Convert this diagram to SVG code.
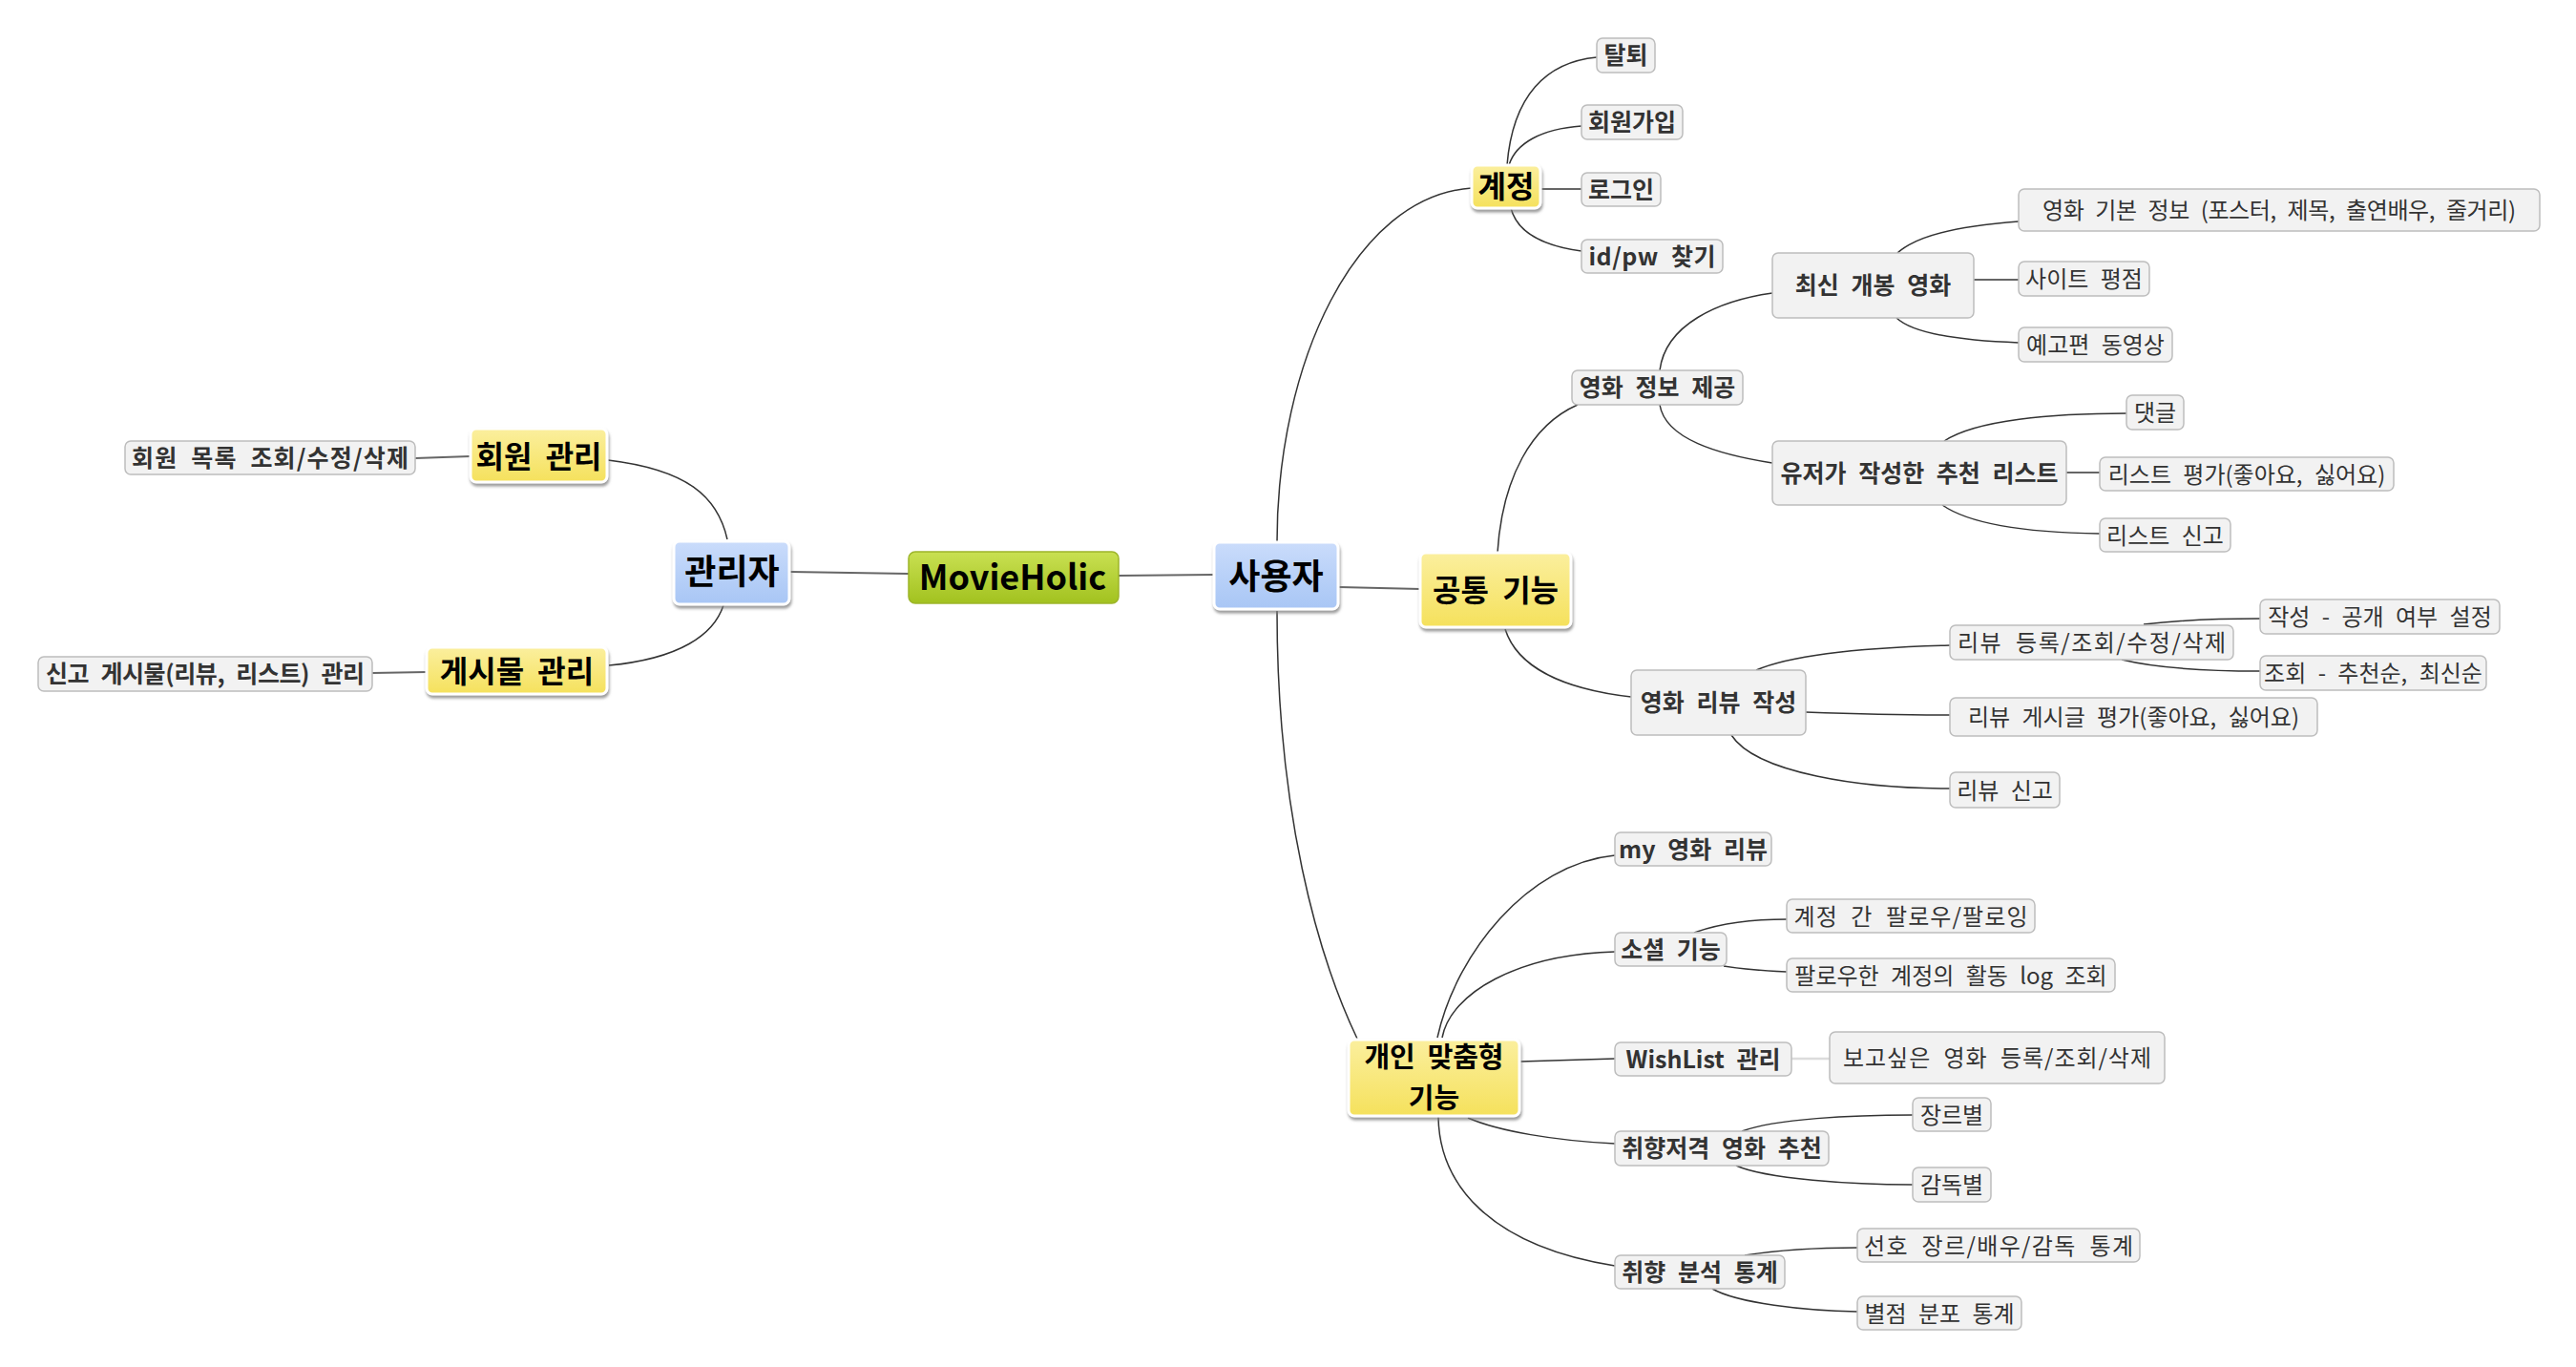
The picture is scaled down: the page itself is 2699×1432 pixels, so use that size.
<svg xmlns="http://www.w3.org/2000/svg" width="2699" height="1432" viewBox="0 0 2699 1432">
<defs>
<linearGradient id="gGreen" x1="0" y1="0" x2="0" y2="1"><stop offset="0" stop-color="#c9e052"/><stop offset="1" stop-color="#a2c21f"/></linearGradient>
<linearGradient id="gBlue" x1="0" y1="0" x2="0" y2="1"><stop offset="0" stop-color="#cadcfb"/><stop offset="1" stop-color="#a8c6f5"/></linearGradient>
<linearGradient id="gYellow" x1="0" y1="0" x2="0" y2="1"><stop offset="0" stop-color="#fbef9e"/><stop offset="1" stop-color="#f5e15c"/></linearGradient>
<filter id="shadow" x="-10%" y="-10%" width="130%" height="140%"><feDropShadow dx="1" dy="3" stdDeviation="1.5" flood-color="#7a7a7a" flood-opacity="0.75"/></filter>
</defs>
<style>
text{font-family:"Noto Sans CJK KR","Noto Sans",sans-serif;text-anchor:middle;word-spacing:7px}
.root rect{fill:url(#gGreen);stroke:#9db52a;stroke-width:1.5}
.root text{font-size:36px;font-weight:bold;fill:#000}
.l1 rect{fill:url(#gBlue);stroke:#fff;stroke-width:3;filter:url(#shadow)}
.l1 text{font-size:36px;font-weight:bold;fill:#000}
.l2 rect{fill:url(#gYellow);stroke:#fff;stroke-width:3;filter:url(#shadow)}
.l2 text{font-size:32px;font-weight:bold;fill:#000}
#n-personal text{font-size:29px}
.l3 rect,.l4 rect{fill:#f2f2f2;stroke:#bdbdbd;stroke-width:1.5}
.l3 text{font-size:25px;font-weight:bold;fill:#333}
.l4 text{font-size:24px;font-weight:normal;fill:#333}
#connectors path{fill:none;stroke:#333;stroke-width:1.5}
#connectors .thick{stroke:#666;stroke-width:2}
#connectors .light{stroke:#dcdcdc;stroke-width:2.5}
</style>
<rect width="2699" height="1432" fill="#fff"/>
<g id="connectors">
<path class="thick" d="M828,599 L952,601"/>
<path class="thick" d="M1172,603 L1272,602"/>
<path class="thick" d="M1403,615 L1488,617"/>
<path d="M762,565 C752,520 720,492 637,482"/>
<path d="M758,634 C748,665 712,690 638,697"/>
<path class="thick" d="M435,480 L493,478"/>
<path class="thick" d="M390,705 L447,704"/>
<path d="M1338,568 C1338,380 1420,205 1542,197"/>
<path d="M1338,640 C1338,850 1380,1000 1422,1088"/>
<path d="M1579,173 C1585,100 1620,65 1673,60"/>
<path d="M1581,173 C1588,150 1615,135 1657,132"/>
<path class="thick" d="M1614,198 L1657,198"/>
<path d="M1583,218 C1590,245 1620,258 1657,263"/>
<path d="M1569,579 C1574,500 1605,445 1653,424"/>
<path d="M1739,388 C1745,340 1800,315 1857,307"/>
<path d="M1739,424 C1745,460 1800,476 1857,485"/>
<path d="M1988,265 C2010,245 2060,236 2115,232"/>
<path class="thick" d="M2068,293 L2115,293"/>
<path d="M1987,333 C2005,350 2060,357 2115,359"/>
<path d="M2037,462 C2070,440 2150,433 2228,433"/>
<path class="thick" d="M2165,495 L2200,495"/>
<path d="M2035,529 C2065,550 2130,558 2200,559"/>
<path d="M1577,659 C1590,700 1640,722 1709,730"/>
<path d="M1840,702 C1880,685 1960,678 2043,676"/>
<path d="M2246,654 C2280,650 2330,648 2368,648"/>
<path d="M2223,691 C2260,700 2320,703 2368,703"/>
<path d="M1892,746 C1950,748 2000,749 2043,749"/>
<path d="M1814,770 C1840,810 1950,826 2043,826"/>
<path d="M1506,1087 C1525,1000 1600,905 1692,896"/>
<path d="M1511,1087 C1520,1040 1590,1000 1692,997"/>
<path d="M1775,977 C1800,968 1835,963 1872,963"/>
<path d="M1806,1012 C1830,1016 1850,1017 1872,1018"/>
<path d="M1593,1112 L1692,1109"/>
<path class="light" d="M1877,1109 L1917,1109"/>
<path d="M1538,1171 C1570,1185 1630,1195 1692,1198"/>
<path d="M1825,1185 C1860,1172 1940,1168 2004,1168"/>
<path d="M1819,1221 C1850,1235 1940,1241 2004,1241"/>
<path d="M1507,1170 C1508,1240 1560,1305 1692,1326"/>
<path d="M1828,1315 C1860,1310 1900,1307 1946,1307"/>
<path d="M1794,1350 C1820,1365 1890,1373 1946,1374"/>
</g>
<g id="n-root" class="root"><rect x="952" y="578" width="220" height="54" rx="7"/><text x="1061" y="618">MovieHolic</text></g>
<g id="n-admin" class="l1"><rect x="706" y="567" width="121" height="66" rx="6"/><text x="767" y="612">관리자</text></g>
<g id="n-user" class="l1"><rect x="1272" y="568" width="130" height="70" rx="6"/><text x="1337" y="617">사용자</text></g>
<g id="n-member" class="l2"><rect x="493" y="449" width="143" height="56" rx="6"/><text x="564.5" y="490">회원 관리</text></g>
<g id="n-post" class="l2"><rect x="447" y="678" width="189" height="49" rx="6"/><text x="541.5" y="714.5">게시물 관리</text></g>
<g id="n-account" class="l2"><rect x="1542" y="173" width="72" height="45" rx="6"/><text x="1578" y="207">계정</text></g>
<g id="n-common" class="l2"><rect x="1488" y="579" width="158" height="78" rx="6"/><text x="1567" y="630">공통 기능</text></g>
<g id="n-personal" class="l2"><rect x="1413" y="1089" width="179" height="80" rx="6"/><text x="1502.5" y="1118"><tspan x="1502.5" y="1118" textLength="146">개인 맞춤형</tspan><tspan x="1502.5" y="1161">기능</tspan></text></g>
<g id="n-memberlist" class="l3"><rect x="131" y="462" width="304" height="35" rx="6"/><text x="283" y="488.5" textLength="290">회원 목록 조회/수정/삭제</text></g>
<g id="n-report" class="l3"><rect x="40" y="688" width="350" height="36" rx="6"/><text x="215" y="715" textLength="334">신고 게시물(리뷰, 리스트) 관리</text></g>
<g id="n-withdraw" class="l3"><rect x="1673" y="40" width="61" height="36" rx="6"/><text x="1703.5" y="67">탈퇴</text></g>
<g id="n-signup" class="l3"><rect x="1657" y="110" width="106" height="36" rx="6"/><text x="1710" y="137">회원가입</text></g>
<g id="n-login" class="l3"><rect x="1657" y="181" width="83" height="35" rx="6"/><text x="1698.5" y="207.5">로그인</text></g>
<g id="n-findpw" class="l3"><rect x="1657" y="251" width="148" height="35" rx="6"/><text x="1731" y="277.5" textLength="133">id/pw 찾기</text></g>
<g id="n-movieinfo" class="l3"><rect x="1647" y="388" width="179" height="36" rx="6"/><text x="1736.5" y="415">영화 정보 제공</text></g>
<g id="n-latest" class="l3"><rect x="1857" y="265" width="211" height="68" rx="6"/><text x="1962.5" y="308">최신 개봉 영화</text></g>
<g id="n-userlist" class="l3"><rect x="1857" y="462" width="308" height="67" rx="6"/><text x="2011" y="504.5">유저가 작성한 추천 리스트</text></g>
<g id="n-review" class="l3"><rect x="1709" y="702" width="183" height="68" rx="6"/><text x="1800.5" y="745">영화 리뷰 작성</text></g>
<g id="n-myreview" class="l3"><rect x="1692" y="872" width="164" height="35" rx="6"/><text x="1774" y="898.5">my 영화 리뷰</text></g>
<g id="n-social" class="l3"><rect x="1692" y="977" width="117" height="35" rx="6"/><text x="1750.5" y="1003.5">소셜 기능</text></g>
<g id="n-wishlist" class="l3"><rect x="1692" y="1092" width="185" height="35" rx="6"/><text x="1784.5" y="1118.5">WishList 관리</text></g>
<g id="n-recommend" class="l3"><rect x="1692" y="1185" width="224" height="36" rx="6"/><text x="1804" y="1212">취향저격 영화 추천</text></g>
<g id="n-stats" class="l3"><rect x="1692" y="1315" width="178" height="35" rx="6"/><text x="1781" y="1341.5">취향 분석 통계</text></g>
<g id="n-basicinfo" class="l4"><rect x="2115" y="198" width="546" height="44" rx="6"/><text x="2388" y="229" textLength="496">영화 기본 정보 (포스터, 제목, 출연배우, 줄거리)</text></g>
<g id="n-rating" class="l4"><rect x="2115" y="274" width="137" height="36" rx="6"/><text x="2183.5" y="301">사이트 평점</text></g>
<g id="n-trailer" class="l4"><rect x="2115" y="343" width="161" height="36" rx="6"/><text x="2195.5" y="370">예고편 동영상</text></g>
<g id="n-comment" class="l4"><rect x="2228" y="414" width="60" height="36" rx="6"/><text x="2258" y="441">댓글</text></g>
<g id="n-listrate" class="l4"><rect x="2200" y="479" width="308" height="35" rx="6"/><text x="2354" y="505.5">리스트 평가(좋아요, 싫어요)</text></g>
<g id="n-listreport" class="l4"><rect x="2200" y="543" width="137" height="35" rx="6"/><text x="2268.5" y="569.5">리스트 신고</text></g>
<g id="n-reviewcrud" class="l4"><rect x="2043" y="655" width="297" height="36" rx="6"/><text x="2191.5" y="682" textLength="281">리뷰 등록/조회/수정/삭제</text></g>
<g id="n-public" class="l4"><rect x="2368" y="628" width="251" height="36" rx="6"/><text x="2493.5" y="655">작성 - 공개 여부 설정</text></g>
<g id="n-sort" class="l4"><rect x="2368" y="687" width="237" height="36" rx="6"/><text x="2486.5" y="714">조회 - 추천순, 최신순</text></g>
<g id="n-reviewrate" class="l4"><rect x="2043" y="731" width="385" height="40" rx="6"/><text x="2235.5" y="760">리뷰 게시글 평가(좋아요, 싫어요)</text></g>
<g id="n-reviewreport" class="l4"><rect x="2043" y="809" width="115" height="37" rx="6"/><text x="2100.5" y="836.5">리뷰 신고</text></g>
<g id="n-follow" class="l4"><rect x="1872" y="942" width="260" height="35" rx="6"/><text x="2002" y="968.5" textLength="245">계정 간 팔로우/팔로잉</text></g>
<g id="n-followlog" class="l4"><rect x="1872" y="1004" width="344" height="35" rx="6"/><text x="2044" y="1030.5">팔로우한 계정의 활동 log 조회</text></g>
<g id="n-wishcrud" class="l4"><rect x="1917" y="1081" width="351" height="54" rx="6"/><text x="2092.5" y="1117" textLength="323">보고싶은 영화 등록/조회/삭제</text></g>
<g id="n-genre" class="l4"><rect x="2004" y="1150" width="82" height="35" rx="6"/><text x="2045" y="1176.5">장르별</text></g>
<g id="n-director" class="l4"><rect x="2004" y="1223" width="82" height="36" rx="6"/><text x="2045" y="1250">감독별</text></g>
<g id="n-prefstats" class="l4"><rect x="1946" y="1287" width="296" height="35" rx="6"/><text x="2094" y="1313.5" textLength="282">선호 장르/배우/감독 통계</text></g>
<g id="n-starstats" class="l4"><rect x="1946" y="1358" width="172" height="35" rx="6"/><text x="2032" y="1384.5">별점 분포 통계</text></g>
</svg>
